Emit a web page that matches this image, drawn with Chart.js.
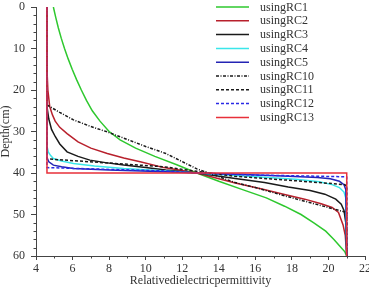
<!DOCTYPE html>
<html>
<head>
<meta charset="utf-8">
<script src="https://cdn.jsdelivr.net/npm/chart.js@4.4.0/dist/chart.umd.min.js"></script>
<style>
html, body { margin: 0; padding: 0; background: #fff; }
#wrap { width: 369px; height: 287px; }
</style>
</head>
<body>
<div id="wrap"><canvas id="chart" width="369" height="287"></canvas></div>
<script>
/* DATA (x = relative permittivity, y = depth in cm) */
const seriesNames = ["usingRC1", "usingRC2", "usingRC3", "usingRC4", "usingRC5",
                     "usingRC10", "usingRC11", "usingRC12", "usingRC13"];

const rc1Eps   = [4.95, 5.08, 5.22, 5.38, 5.56, 5.76, 5.98, 6.22, 6.48, 6.76, 7.08, 7.5, 8.0, 8.6, 9.45, 10.5, 11.7, 12.8, 14.0, 15.3, 16.6, 17.6, 18.5, 19.2, 19.85, 20.3, 20.7, 20.9, 21.0];
const rc1Depth = [0, 2.5, 5, 7.5, 10, 12.5, 15, 17.5, 20, 22.5, 25, 27.5, 30, 32, 34, 36, 38, 40, 42, 44, 46, 48, 50, 52, 54, 56, 58, 59, 60];

const rc2Eps   = [4.6, 4.6, 4.65, 4.75, 4.9, 5.05, 5.3, 5.7, 6.3, 7.0, 7.9, 8.8, 9.7, 11.0, 12.8, 14.9, 16.3, 17.6, 18.7, 19.6, 20.2, 20.55, 20.8, 20.92, 21.0];
const rc2Depth = [0, 15, 20, 24, 26, 27.5, 29, 30.5, 32.5, 34, 35.3, 36.4, 37.3, 38.7, 40, 42.4, 43.8, 45.2, 46.3, 47.4, 48.3, 49.5, 52.5, 55, 60];

const rc3Eps   = [4.6, 4.6, 4.7, 4.85, 5.05, 5.3, 5.7, 6.3, 6.95, 7.8, 8.8, 10.0, 11.1, 12.8, 14.9, 16.5, 17.8, 19.0, 19.8, 20.4, 20.7, 20.85, 20.95, 21.0];
const rc3Depth = [0, 24, 27, 29.5, 31.2, 33, 34.9, 36, 36.9, 37.5, 38.1, 38.7, 39.3, 40, 41.3, 42.3, 43.4, 44.2, 45.1, 46.3, 47.5, 49, 52, 60];

const rc4Eps   = [4.6, 4.6, 4.67, 4.8, 4.95, 5.4, 6.05, 7.2, 8.8, 11.1, 12.8, 14.9, 16.5, 18.2, 19.5, 20.2, 20.6, 20.85, 20.95, 21.0];
const rc4Depth = [0, 33.5, 34.9, 35.8, 36.5, 37.1, 37.7, 38.3, 38.9, 39.5, 40, 40.6, 41.0, 41.5, 42.1, 42.8, 43.5, 44.6, 46, 60];

const rc5Eps   = [4.6, 4.6, 4.7, 4.95, 5.4, 6.05, 8.0, 11.1, 12.8, 15.0, 17.5, 19.4, 20.1, 20.6, 20.85, 20.95, 21.0];
const rc5Depth = [0, 36.3, 37.3, 38.1, 38.5, 38.9, 39.3, 39.7, 40, 40.3, 40.7, 41.1, 41.4, 42, 42.8, 44, 60];

const rc10Eps   = [4.6, 4.6, 5.3, 6.05, 7.0, 7.9, 10.0, 11.1, 12.8, 14.9, 16.0, 17.6, 19.3, 20.9, 21.0, 21.0];
const rc10Depth = [0, 23.6, 25.4, 27.2, 28.8, 30.1, 33.6, 35.3, 39.0, 42.3, 43.5, 45.5, 47.5, 49.4, 49.6, 60];

const rc11Eps   = [4.6, 4.6, 8.0, 11.0, 12.8, 14.9, 18.0, 20.9, 21.0, 21.0];
const rc11Depth = [0, 36.6, 37.6, 38.5, 39.6, 40.8, 41.8, 42.8, 43.2, 60];

const rc12Eps   = [4.6, 4.6, 11.0, 12.8, 16.0, 20.9, 21.0, 21.0];
const rc12Depth = [0, 38.7, 39.5, 40, 40.5, 40.9, 41, 60];

const rc13Eps   = [4.6, 4.6, 21.0, 21.0];
const rc13Depth = [0, 40, 40, 60];

const xTicksMajor = [4, 6, 8, 10, 12, 14, 16, 18, 20, 22];
const yTicksMajor = [0, 10, 20, 30, 40, 50, 60];

/* STYLE */
const FONT = "'Liberation Serif', 'Times New Roman', serif";
const TEXT = "#333";
const AXIS = "#444";

const styles = [
  { color: "#2ec82e", dash: [] },
  { color: "#b8202c", dash: [] },
  { color: "#1a1a1a", dash: [] },
  { color: "#3ae6ea", dash: [] },
  { color: "#2424b4", dash: [] },
  { color: "#1a1a1a", dash: [3, 1.5, 1, 1.5] },
  { color: "#1a1a1a", dash: [3, 2] },
  { color: "#2a2ae6", dash: [3, 2] },
  { color: "#e8303a", dash: [] }
];

const epsList = [rc1Eps, rc2Eps, rc3Eps, rc4Eps, rc5Eps, rc10Eps, rc11Eps, rc12Eps, rc13Eps];
const depthList = [rc1Depth, rc2Depth, rc3Depth, rc4Depth, rc5Depth, rc10Depth, rc11Depth, rc12Depth, rc13Depth];

const datasets = seriesNames.map((name, i) => ({
  label: name,
  data: epsList[i].map((x, k) => ({ x, y: depthList[i][k] })),
  showLine: true,
  borderColor: styles[i].color,
  borderDash: styles[i].dash,
  borderWidth: 1.5,
  pointRadius: 0,
  fill: false,
  tension: 0,
  order: seriesNames.length - i
}));

/* minor ticks */
const minorTicks = {
  id: "minorTicks",
  afterDraw(c) {
    const ctx = c.ctx, x = c.scales.x, y = c.scales.y;
    ctx.save();
    ctx.strokeStyle = AXIS;
    ctx.lineWidth = 1;
    ctx.beginPath();
    for (let v = 5; v < 22; v += 2) {
      const px = Math.round(x.getPixelForValue(v)) + 0.5;
      ctx.moveTo(px, y.bottom);
      ctx.lineTo(px, y.bottom + 2.5);
    }
    for (let v = 2; v < 60; v += 2) {
      if (v % 10 === 0) continue;
      const py = Math.round(y.getPixelForValue(v)) + 0.5;
      ctx.moveTo(x.left, py);
      ctx.lineTo(x.left - 2.5, py);
    }
    ctx.stroke();
    ctx.restore();
  }
};

/* legend */
const lineLegend = {
  id: "lineLegend",
  afterDraw(c) {
    const ctx = c.ctx;
    ctx.save();
    ctx.font = "12px " + FONT;
    ctx.textBaseline = "middle";
    ctx.fillStyle = TEXT;
    c.data.datasets.forEach((ds, i) => {
      const yy = 7 + i * 13.8;
      ctx.beginPath();
      ctx.strokeStyle = ds.borderColor;
      ctx.lineWidth = 1.5;
      ctx.setLineDash(ds.borderDash);
      ctx.moveTo(216, yy);
      ctx.lineTo(249, yy);
      ctx.stroke();
      ctx.setLineDash([]);
      ctx.fillText(ds.label, 260, yy + 0.5);
    });
    ctx.restore();
  }
};

new Chart(document.getElementById("chart"), {
  type: "scatter",
  data: { datasets },
  options: {
    responsive: false,
    animation: false,
    devicePixelRatio: 1,
    layout: { padding: { top: 7, right: 4, left: 0, bottom: 0 } },
    plugins: { legend: { display: false }, tooltip: { enabled: false } },
    scales: {
      x: {
        type: "linear",
        min: 4, max: 22,
        afterBuildTicks: s => { s.ticks = xTicksMajor.map(v => ({ value: v })); },
        ticks: { font: { family: FONT, size: 12 }, color: TEXT, padding: 2, maxRotation: 0 },
        grid: { drawOnChartArea: false, drawTicks: true, tickLength: 4, tickColor: AXIS },
        border: { display: true, color: AXIS, width: 1 },
        title: { display: true, text: "Relativedielectricpermittivity", font: { family: FONT, size: 12 }, color: TEXT, padding: { top: 0, bottom: -1 } },
        afterFit: s => { s.height = 31; s.paddingLeft = 0; s.paddingRight = 0; }
      },
      y: {
        type: "linear",
        reverse: true,
        min: 0, max: 60,
        afterBuildTicks: s => { s.ticks = yTicksMajor.map(v => ({ value: v })); },
        ticks: { font: { family: FONT, size: 12 }, color: TEXT, padding: 6 },
        grid: { drawOnChartArea: false, drawTicks: true, tickLength: 5, tickColor: AXIS },
        border: { display: true, color: AXIS, width: 1 },
        title: { display: true, text: "Depth(cm)", font: { family: FONT, size: 12, lineHeight: 1 }, color: TEXT, padding: 0 },
        afterFit: s => { s.width = 36; s.paddingTop = 0; s.paddingBottom = 0; }
      }
    }
  },
  plugins: [minorTicks, lineLegend]
});
</script>
</body>
</html>
